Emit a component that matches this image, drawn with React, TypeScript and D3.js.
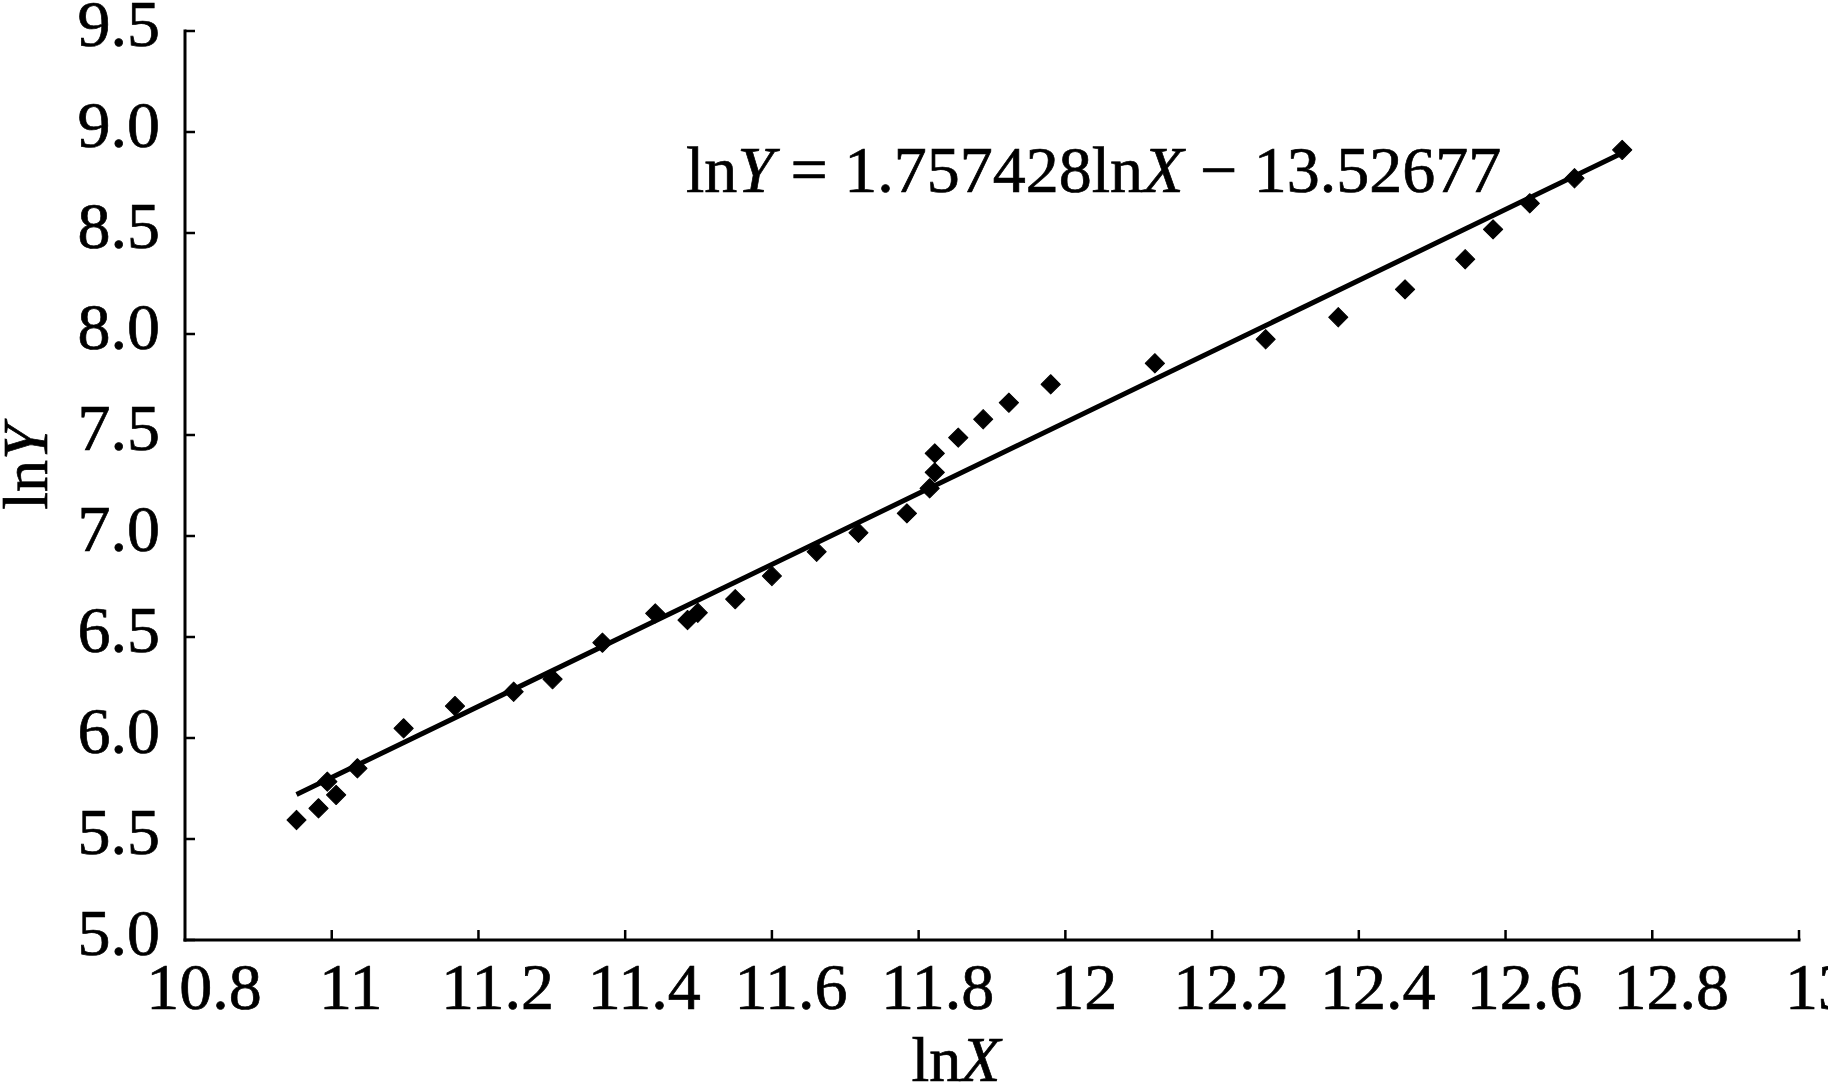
import React from "react";
import * as d3 from "d3";

// Data
const lnX: number[] = [
  10.952, 10.982, 10.994, 11.006, 11.035, 11.098, 11.168, 11.248, 11.301, 11.369,
  11.441, 11.485, 11.499, 11.55, 11.6, 11.661, 11.718, 11.784, 11.815, 11.822,
  11.822, 11.854, 11.888, 11.923, 11.98, 12.122, 12.273, 12.372, 12.463, 12.545,
  12.583, 12.633, 12.694, 12.759,
];
const lnY: number[] = [
  5.594, 5.652, 5.784, 5.718, 5.85, 6.048, 6.158, 6.229, 6.291, 6.472,
  6.617, 6.584, 6.62, 6.687, 6.802, 6.922, 7.016, 7.112, 7.236, 7.315,
  7.409, 7.487, 7.578, 7.66, 7.751, 7.855, 7.974, 8.083, 8.221, 8.37,
  8.518, 8.647, 8.771, 8.911,
];
const fitSlope = 1.757428;
const fitIntercept = -13.52677;
const fitRange: number[] = [10.952, 12.759];
const xTicks: number[] = [10.8, 11, 11.2, 11.4, 11.6, 11.8, 12, 12.2, 12.4, 12.6, 12.8, 13];
const xTickLabels: string[] = ["10.8", "11", "11.2", "11.4", "11.6", "11.8", "12", "12.2", "12.4", "12.6", "12.8", "13"];
const yTicks: number[] = [5.0, 5.5, 6.0, 6.5, 7.0, 7.5, 8.0, 8.5, 9.0, 9.5];
const yTickLabels: string[] = ["5.0", "5.5", "6.0", "6.5", "7.0", "7.5", "8.0", "8.5", "9.0", "9.5"];

const W = 1828;
const H = 1084;
const FONT = "'Liberation Serif', 'Times New Roman', serif";
const TEXT_STROKE = 0.7;

export default function App() {
  const x = d3.scaleLinear().domain([10.8, 13]).range([185, 1799]);
  const y = d3.scaleLinear().domain([5, 9.5]).range([940, 31]);

  const fitLine = d3
    .line<number>()
    .x((d) => x(d))
    .y((d) => y(fitSlope * d + fitIntercept))(fitRange);

  const diamond = d3.symbol().type(d3.symbolSquare).size(185)();

  const axisStroke = 3;

  return (
    <svg
      width={W}
      height={H}
      viewBox={`0 0 ${W} ${H}`}
      style={{ position: "absolute", left: 0, top: 0, background: "#fff" }}
    >
      <rect x={0} y={0} width={W} height={H} fill="#fff" />
      {/* axes */}
      <line x1={x(10.8)} x2={x(10.8)} y1={y(9.5) - 1.5} y2={y(5) + 1.5} stroke="#000" strokeWidth={axisStroke} />
      <line x1={x(10.8) - 1.5} x2={x(13) + 1.5} y1={y(5)} y2={y(5)} stroke="#000" strokeWidth={axisStroke} />
      {yTicks.map((t, i) => (
        <g key={"yt" + i}>
          <line x1={x(10.8)} x2={x(10.8) + 10} y1={y(t)} y2={y(t)} stroke="#000" strokeWidth={2.5} />
          <text
            x={160}
            y={y(t) + 15}
            textAnchor="end"
            fontFamily={FONT}
            fontSize={66}
            fill="#000"
            stroke="#000"
            strokeWidth={TEXT_STROKE}
          >
            {yTickLabels[i]}
          </text>
        </g>
      ))}
      {xTicks.map((t, i) => (
        <g key={"xt" + i}>
          {i > 0 && (
            <line x1={x(t)} x2={x(t)} y1={y(5)} y2={y(5) - 10} stroke="#000" strokeWidth={2.5} />
          )}
          <text
            x={x(t) + 19}
            y={1009}
            textAnchor="middle"
            fontFamily={FONT}
            fontSize={66}
            fill="#000"
            stroke="#000"
            strokeWidth={TEXT_STROKE}
          >
            {xTickLabels[i]}
          </text>
        </g>
      ))}
      {/* regression line */}
      <path d={fitLine || ""} fill="none" stroke="#000" strokeWidth={5} />
      {/* points */}
      {lnX.map((v, i) => (
        <path
          key={"p" + i}
          d={diamond || ""}
          transform={`translate(${x(v)},${y(lnY[i])}) rotate(45)`}
          fill="#000"
          stroke="#000"
          strokeWidth={1}
          strokeLinejoin="round"
        />
      ))}
      {/* equation */}
      <text
        x={686}
        y={192}
        fontFamily={FONT}
        fontSize={66}
        fill="#000"
        stroke="#000"
        strokeWidth={TEXT_STROKE}
      >
        ln<tspan fontStyle="italic">Y</tspan> = 1.757428ln<tspan fontStyle="italic">X</tspan> − 13.52677
      </text>
      {/* axis titles */}
      <text
        x={956}
        y={1081}
        textAnchor="middle"
        fontFamily={FONT}
        fontSize={64}
        fill="#000"
        stroke="#000"
        strokeWidth={TEXT_STROKE}
      >
        ln<tspan fontStyle="italic">X</tspan>
      </text>
      <text
        transform={`translate(47,467) rotate(-90)`}
        textAnchor="middle"
        fontFamily={FONT}
        fontSize={64}
        fill="#000"
        stroke="#000"
        strokeWidth={TEXT_STROKE}
      >
        ln<tspan fontStyle="italic">Y</tspan>
      </text>
    </svg>
  );
}
